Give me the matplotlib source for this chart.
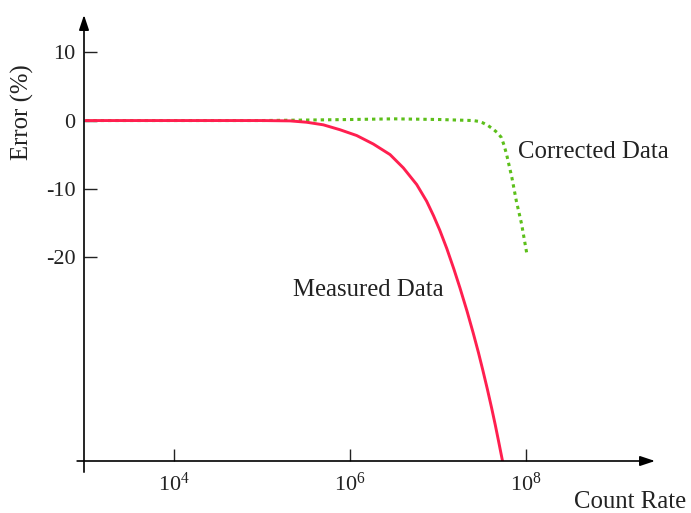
import numpy as np
import matplotlib.pyplot as plt

# Values (x as log10 of count rate, y in %)
measured_logx = [3.0, 4.0, 5.0, 5.318, 5.508, 5.697, 5.886, 6.076, 6.265, 6.455, 6.606,
                 6.758, 6.871, 6.95, 7.02, 7.10, 7.18, 7.25, 7.33, 7.40, 7.46, 7.51,
                 7.56, 7.61, 7.65, 7.69, 7.733]
measured_err = [0.0, 0.0, 0.0, -0.05, -0.25, -0.63, -1.35, -2.2, -3.45, -5.0, -6.95,
                -9.4, -11.85, -14.0, -16.1, -18.8, -21.8, -24.6, -28.0, -31.2, -34.1, -36.7,
                -39.4, -42.25, -44.65, -47.2, -50.0]

corrected_logx = [3.0, 5.0, 6.0, 6.5, 7.02, 7.40, 7.46, 7.51, 7.57, 7.63, 7.68, 7.72,
                  7.75, 7.78, 7.84, 7.89, 7.95, 8.01]
corrected_err = [0.0, 0.0, 0.15, 0.25, 0.15, 0.0, -0.12, -0.34, -0.75, -1.3, -1.85, -2.5,
                 -3.6, -5.0, -8.4, -11.8, -15.2, -19.6]

x_ticks = [1e4, 1e6, 1e8]
x_tick_labels = [r'$\mathregular{10^{4}}$', r'$\mathregular{10^{6}}$', r'$\mathregular{10^{8}}$']
y_ticks = [10, 0, -10, -20]
y_tick_labels = ['10', '0', '-10', '-20']

plt.rcParams['font.family'] = ['Liberation Serif', 'DejaVu Serif']
plt.rcParams['mathtext.fontset'] = 'custom'
plt.rcParams['mathtext.rm'] = 'Liberation Serif'

W, H = 691, 513
fig = plt.figure(figsize=(W / 100, H / 100), dpi=100)
ax = fig.add_axes([84 / W, 1 - 461 / H, (655 - 84) / W, (461 - 15) / H])
ax.set_xscale('log')
ax.set_xlim(10 ** 2.977, 10 ** 9.466)
ax.set_ylim(-50, 15.5)

ax.plot(10 ** np.array(corrected_logx), corrected_err, color='#5cbf1a', lw=2.2,
        linestyle=(0, (1.1, 1.3)), solid_capstyle='butt', zorder=2)
ax.plot(10 ** np.array(measured_logx), measured_err, color='#ff1f4f', lw=2.1, zorder=3)

for s in ax.spines.values():
    s.set_visible(False)

# axes with arrow heads
arrow = dict(arrowstyle='-|>,head_length=0.9,head_width=0.3', color='black', lw=1.2,
             shrinkA=0, shrinkB=0)
ax.annotate('', xy=(1.0, 0.0), xytext=(-0.012, 0.0), xycoords='axes fraction',
            arrowprops=arrow, annotation_clip=False)
ax.annotate('', xy=(0.0, 1.0), xytext=(0.0, -0.025), xycoords='axes fraction',
            arrowprops=arrow, annotation_clip=False)

ax.set_xticks(x_ticks)
ax.set_xticklabels(x_tick_labels)
ax.minorticks_off()
ax.set_yticks(y_ticks)
ax.set_yticklabels(y_tick_labels)
ax.tick_params(axis='both', direction='in', length=9, width=1.0, labelsize=16, colors='#222222')
ax.tick_params(axis='x', pad=8)
ax.tick_params(axis='y', pad=6)

txt = dict(fontsize=17.8, color='#222222')
fig.text(22 / W, 1 - 112 / H, 'Error (%)', rotation=90, ha='center', va='center', **txt)
fig.text(686 / W, 1 - 502 / H, 'Count Rate', ha='right', va='center', **txt)
fig.text(293 / W, 1 - 290 / H, 'Measured Data', ha='left', va='center', **txt)
fig.text(518 / W, 1 - 152 / H, 'Corrected Data', ha='left', va='center', **txt)

fig.savefig('out.png', dpi=100)
